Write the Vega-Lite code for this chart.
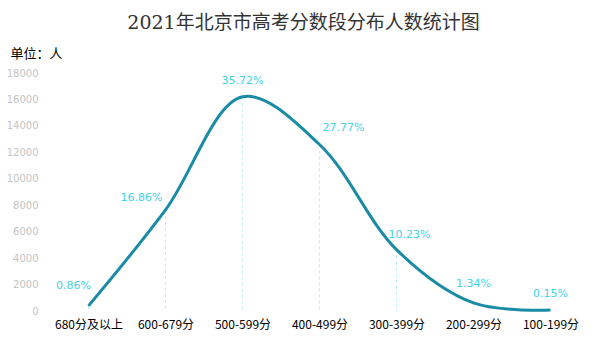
{
  "$schema": "https://vega.github.io/schema/vega-lite/v6.json",
  "autosize": "none",
  "width": 539,
  "height": 238,
  "padding": {"left": 50, "top": 73, "right": 17, "bottom": 52},
  "background": "white",
  "title": {
    "text": "2021年北京市高考分数段分布人数统计图",
    "font": "DejaVu Serif, Noto Sans CJK SC",
    "fontSize": 19,
    "fontWeight": "normal",
    "color": "#333333",
    "anchor": "middle",
    "dx": -16,
    "offset": 14
  },
  "data": {
    "values": [
      {"seg": "680分及以上", "count": 390, "pct": "0.86%"},
      {"seg": "600-679分", "count": 7647, "pct": "16.86%"},
      {"seg": "500-599分", "count": 16200, "pct": "35.72%"},
      {"seg": "400-499分", "count": 12594, "pct": "27.77%"},
      {"seg": "300-399分", "count": 4640, "pct": "10.23%"},
      {"seg": "200-299分", "count": 608, "pct": "1.34%"},
      {"seg": "100-199分", "count": 68, "pct": "0.15%"}
    ]
  },
  "encoding": {
    "x": {
      "field": "seg",
      "type": "ordinal",
      "sort": null,
      "scale": {"type": "point", "padding": 0.5},
      "axis": {
        "title": null,
        "labelAngle": 0,
        "labelFont": "Noto Sans CJK SC",
        "labelFontSize": 12,
        "labelColor": "#000000",
        "labelPadding": 8,
        "domain": false,
        "ticks": false,
        "grid": false
      }
    },
    "y": {
      "field": "count",
      "type": "quantitative",
      "scale": {"domain": [0, 18000], "nice": false},
      "axis": {
        "values": [0, 2000, 4000, 6000, 8000, 10000, 12000, 14000, 16000, 18000],
        "format": "d",
        "title": "单位：人",
        "titleAngle": 0,
        "titleAlign": "left",
        "titleBaseline": "alphabetic",
        "titleX": -40,
        "titleY": -16,
        "titleFont": "Noto Sans CJK SC",
        "titleFontSize": 13,
        "titleFontWeight": "normal",
        "titleColor": "#000000",
        "labelFont": "DejaVu Sans",
        "labelFontSize": 10,
        "labelColor": "#c4c4c4",
        "labelPadding": 12,
        "domain": false,
        "ticks": false,
        "grid": false
      }
    }
  },
  "layer": [
    {
      "mark": {"type": "rule", "color": "#b8f0f6", "strokeDash": [3, 3], "strokeWidth": 1},
      "encoding": {"y2": {"datum": 0}}
    },
    {
      "mark": {"type": "line", "interpolate": "catmull-rom", "color": "#1a8ba5", "strokeWidth": 3}
    },
    {
      "transform": [{"filter": "datum.seg === '680分及以上'"}],
      "mark": {"type": "text", "color": "#3fd3e6", "font": "DejaVu Sans", "fontSize": 11, "dx": -15, "dy": -20},
      "encoding": {"text": {"field": "pct"}}
    },
    {
      "transform": [{"filter": "datum.seg === '600-679分'"}],
      "mark": {"type": "text", "color": "#3fd3e6", "font": "DejaVu Sans", "fontSize": 11, "dx": -24, "dy": -12},
      "encoding": {"text": {"field": "pct"}}
    },
    {
      "transform": [{"filter": "datum.seg === '400-499分'"}],
      "mark": {"type": "text", "color": "#3fd3e6", "font": "DejaVu Sans", "fontSize": 11, "dx": 24, "dy": -16},
      "encoding": {"text": {"field": "pct"}}
    },
    {
      "transform": [{"filter": "datum.seg === '300-399分'"}],
      "mark": {"type": "text", "color": "#3fd3e6", "font": "DejaVu Sans", "fontSize": 11, "dx": 13, "dy": -15},
      "encoding": {"text": {"field": "pct"}}
    },
    {
      "transform": [{"filter": "datum.seg === '500-599分' || datum.seg === '100-199分'"}],
      "mark": {"type": "text", "color": "#3fd3e6", "font": "DejaVu Sans", "fontSize": 11, "dy": -16},
      "encoding": {"text": {"field": "pct"}}
    },
    {
      "transform": [{"filter": "datum.seg === '200-299分'"}],
      "mark": {"type": "text", "color": "#3fd3e6", "font": "DejaVu Sans", "fontSize": 11, "dy": -19},
      "encoding": {"text": {"field": "pct"}}
    }
  ],
  "config": {"view": {"stroke": null}}
}
